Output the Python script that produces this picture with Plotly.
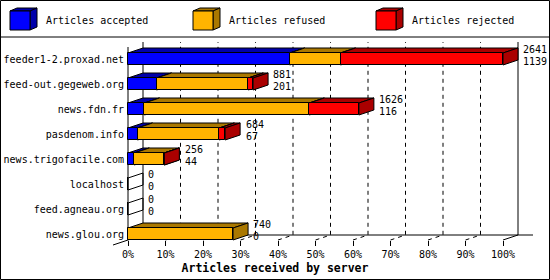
import plotly.graph_objects as go

# ---------------- data ----------------
servers = ["feeder1-2.proxad.net", "feed-out.gegeweb.org", "news.fdn.fr",
           "pasdenom.info", "news.trigofacile.com", "localhost",
           "feed.agneau.org", "news.glou.org"]
totals = [2641, 881, 1626, 684, 256, 0, 0, 740]
accepted = [1139, 201, 116, 67, 44, 0, 0, 0]
refused = [358, 646, 1161, 576, 211, 0, 0, 740]
rejected = [1144, 34, 349, 41, 1, 0, 0, 0]
series_names = ["Articles accepted", "Articles refused", "Articles rejected"]
x_tick_values = [0, 10, 20, 30, 40, 50, 60, 70, 80, 90, 100]
x_tick_labels = ["0%", "10%", "20%", "30%", "40%", "50%", "60%", "70%", "80%", "90%", "100%"]
axis_title = "Articles received by server"

# ---------------- style ----------------
W, H = 550, 280
FONT = "DejaVu Sans Mono"
front_colors = ["#0000ff", "#ffb400", "#ff0000"]
shade_colors = ["#0000aa", "#aa7800", "#aa0000"]
PX_X = 3.75          # pixels per percent
X0 = 128             # pixel of 0%
PX_Y = 25            # pixels per category
Y0 = 59              # pixel of first category
DX = 15 / PX_X       # depth in x units
DY = 5 / PX_Y        # depth in y units
HALF = 0.24          # half bar thickness (category units)
FLOOR_FRONT = (240 - Y0) / PX_Y
FLOOR_BACK = FLOOR_FRONT - DY
WALL_TOP = (42 - Y0) / PX_Y

series = [accepted, refused, rejected]
scale = 100.0 / max(totals)
idx = list(range(len(servers)))

fig = go.Figure()
shapes = []
annotations = []

# back-wall gridlines (dashed) and walls
for v in x_tick_values:
    path = f"M {v},{FLOOR_FRONT} L {v+DX},{FLOOR_BACK} L {v+DX},{WALL_TOP}"
    solid = v in (x_tick_values[0], x_tick_values[-1])
    shapes.append(dict(type="path", path=path, xref="x", yref="y", layer="below",
                       line=dict(color="black", width=1, dash="solid" if solid else "4px,4px")))
# back floor line
shapes.append(dict(type="line", xref="x", yref="y", layer="below",
                   x0=x_tick_values[0] + DX, x1=x_tick_values[-1] + 2 * DX,
                   y0=FLOOR_BACK, y1=FLOOR_BACK, line=dict(color="black", width=1)))
# front-left line and left floor extension
shapes.append(dict(type="path", xref="x", yref="y", layer="below",
                   path=f"M {-DX},{FLOOR_FRONT+DY} L 0,{FLOOR_FRONT} L 0,{WALL_TOP+DY}",
                   line=dict(color="black", width=1)))

# bars
for s, vals in enumerate(series):
    base = [sum(series[k][i] for k in range(s)) * scale for i in idx]
    pct = [v * scale for v in vals]
    fig.add_trace(go.Bar(y=idx, x=pct, base=base, orientation="h", width=2 * HALF,
                         marker=dict(color=front_colors[s], line=dict(color="black", width=1)),
                         name=series_names[s], showlegend=False, hoverinfo="skip"))

# 3D faces of bars
for i in idx:
    top, bot = i - HALF, i + HALF
    if totals[i] == 0:
        shapes.append(dict(type="path", xref="x", yref="y", layer="below",
                           path=f"M 0,{top} L {DX},{top-DY} L {DX},{bot-DY} L 0,{bot} Z",
                           line=dict(color="black", width=1)))
    cum = 0.0
    for s, vals in enumerate(series):
        if vals[i] <= 0:
            continue
        x0 = cum
        x1 = cum + vals[i] * scale
        cum = x1
        shapes.append(dict(type="path", xref="x", yref="y", layer="below",
                           path=f"M {x0},{top} L {x0+DX},{top-DY} L {x1+DX},{top-DY} L {x1},{top} Z",
                           fillcolor=shade_colors[s], line=dict(color="black", width=1)))
        shapes.append(dict(type="path", xref="x", yref="y", layer="below",
                           path=f"M {x1},{top} L {x1+DX},{top-DY} L {x1+DX},{bot-DY} L {x1},{bot} Z",
                           fillcolor=shade_colors[s], line=dict(color="black", width=1)))
    end = totals[i] * scale
    annotations.append(dict(x=end + DX + 0.9, y=i - 0.38, xref="x", yref="y", text=str(totals[i]),
                            showarrow=False, xanchor="left", yanchor="middle",
                            font=dict(family=FONT, size=10, color="black")))
    annotations.append(dict(x=end + DX + 0.9, y=i + 0.08, xref="x", yref="y", text=str(accepted[i]),
                            showarrow=False, xanchor="left", yanchor="middle",
                            font=dict(family=FONT, size=10, color="black")))

# legend (3D cubes) in paper coordinates
def px(x):
    return x / W

def py(y):
    return 1 - y / H

legend_x = [10, 193, 376]
for s in range(3):
    lx = legend_x[s]
    fx0, fx1, fy0, fy1, ddx, ddy = lx, lx + 20, 11, 30, 7, 3
    shapes.append(dict(type="path", xref="paper", yref="paper",
                       path=f"M {px(fx0)},{py(fy0)} L {px(fx0+ddx)},{py(fy0-ddy)} L {px(fx1+ddx)},{py(fy0-ddy)} L {px(fx1)},{py(fy0)} Z",
                       fillcolor=shade_colors[s], line=dict(color="black", width=1)))
    shapes.append(dict(type="path", xref="paper", yref="paper",
                       path=f"M {px(fx1)},{py(fy0)} L {px(fx1+ddx)},{py(fy0-ddy)} L {px(fx1+ddx)},{py(fy1-ddy)} L {px(fx1)},{py(fy1)} Z",
                       fillcolor=shade_colors[s], line=dict(color="black", width=1)))
    shapes.append(dict(type="rect", xref="paper", yref="paper",
                       x0=px(fx0), x1=px(fx1), y0=py(fy0), y1=py(fy1),
                       fillcolor=front_colors[s], line=dict(color="black", width=1)))
    annotations.append(dict(x=px(lx + 34), y=py(21), xref="paper", yref="paper",
                            text=series_names[s], showarrow=False, xanchor="left", yanchor="middle",
                            font=dict(family=FONT, size=10, color="black")))

# legend separator and outer frame
shapes.append(dict(type="line", xref="paper", yref="paper", x0=0, x1=1, y0=py(37), y1=py(37),
                   line=dict(color="black", width=1)))
shapes.append(dict(type="rect", xref="paper", yref="paper", x0=px(0.5), x1=px(W - 0.5),
                   y0=py(0.5), y1=py(H - 0.5), line=dict(color="black", width=1)))

fig.update_layout(
    width=W, height=H, template="none",
    margin=dict(l=0, r=0, t=0, b=0, pad=0),
    paper_bgcolor="white", plot_bgcolor="white",
    barmode="overlay", bargap=0,
    shapes=shapes, annotations=annotations,
    xaxis=dict(range=[-X0 / PX_X, (W - X0) / PX_X], anchor="free", position=(H - 240) / H,
               tickmode="array", tickvals=x_tick_values, ticktext=x_tick_labels,
               ticks="outside", ticklen=5, tickwidth=1, tickcolor="black",
               showgrid=False, zeroline=False, showline=False, automargin=False,
               tickfont=dict(family=FONT, size=10, color="black"),
               title=dict(text=axis_title, standoff=4,
                          font=dict(family=FONT, size=11.5, color="black", weight="bold"))),
    yaxis=dict(range=[(H - Y0) / PX_Y, -Y0 / PX_Y], anchor="free", position=X0 / W,
               tickmode="array", tickvals=idx, ticktext=servers, ticks="",
               ticklabelstandoff=4,
               showgrid=False, zeroline=False, showline=False, automargin=False,
               tickfont=dict(family=FONT, size=10, color="black")),
)

fig.write_html("out.html")
